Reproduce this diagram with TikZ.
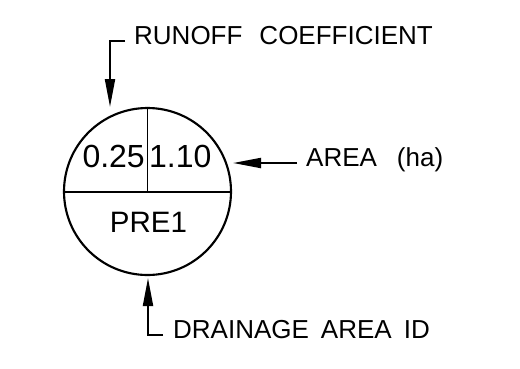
\documentclass[tikz,border=0pt]{standalone}
\usepackage{fontspec}
\setmainfont{Liberation Sans}
\usetikzlibrary{arrows.meta}

\begin{document}
\begin{tikzpicture}[x=1pt,y=-1pt,
  lead/.style={black, line width=0.07 cm, -{Triangle[length=28pt,width=10pt]}},
  callout/.style={inner sep=0pt, text height=0.72em, text depth=0pt, anchor=west,
    font=\fontsize{26}{31}\selectfont},
  cellval/.style={inner sep=0pt, text height=0.72em, text depth=0pt,
    font=\fontsize{32}{36}\selectfont}]
\useasboundingbox (0,0) rectangle (520,368);

\node[circle, draw, line width=0.075 cm, minimum size=167pt, inner sep=0pt] (ring) at (147.5,191.5) {};
\draw[line width=0.07 cm] (ring.west) -- (ring.east);
\draw[line width=0.07 cm] (ring.north) -- (ring.center);

\node[cellval, anchor=east] (cval) at (145,164) {0.25};
\node[cellval, anchor=west] (aval) at (149,164) {1.10};
\node[cellval, font=\fontsize{29.5}{34}\selectfont] (idval) at (148.5,228.5) {PRE1};

\node[callout] (runoff) at (134,40.5) {RUNOFF\hspace{17pt}COEFFICIENT};
\node[callout] (area) at (306,163) {AREA\hspace{20pt}(ha)};
\node[callout] (drain) at (173,334.5) {DRAINAGE\hspace{12pt}AREA\hspace{12pt}ID};

\coordinate (rtip) at (110,107);
\coordinate (atip) at (233,163);
\coordinate (dtip) at (148,278);

\draw[lead] ([xshift=-9pt]runoff.west) -| (rtip);
\draw[lead] ([xshift=-9pt]area.west) -- (atip);
\draw[lead] ([xshift=-10pt]drain.west) -| (dtip);
\end{tikzpicture}
\end{document}
